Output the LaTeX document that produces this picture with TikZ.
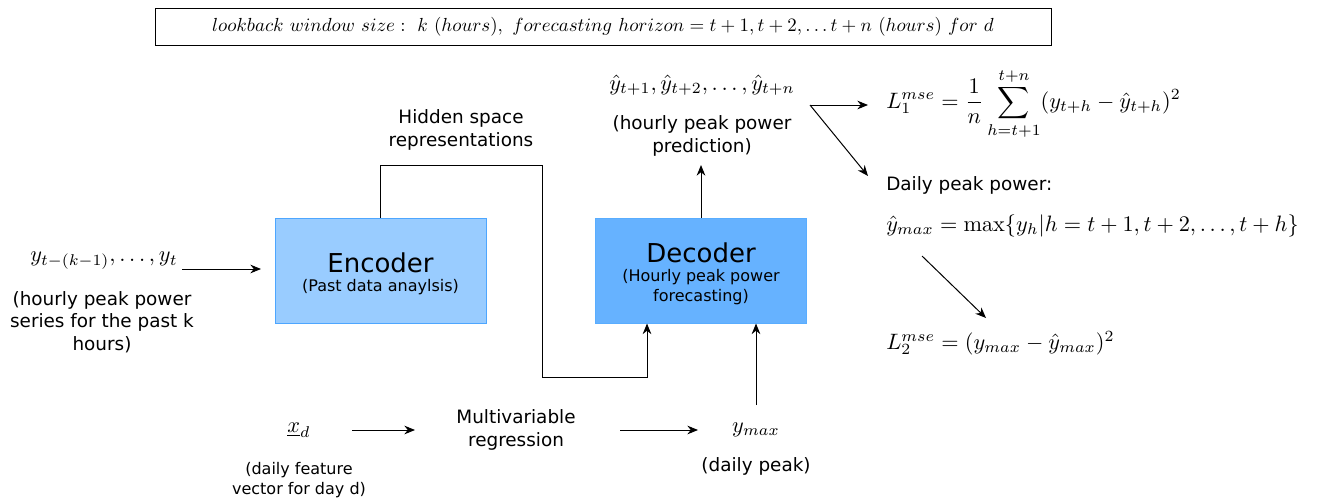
\documentclass[tikz,border=0pt]{standalone}
\usepackage{amsmath}
\usepackage{graphicx}
\usepackage{fontspec}
\setsansfont{DejaVu Sans}
\usetikzlibrary{arrows.meta,calc}
\definecolor{encfill}{HTML}{99CCFF}
\definecolor{encline}{HTML}{4DA6FF}
\definecolor{decfill}{HTML}{66B2FF}
\definecolor{decline}{HTML}{59ADFF}
\newcommand{\mymth}[1]{\scalebox{1.67}{$#1$}}
\begin{document}
\begin{tikzpicture}[x=0.75pt,y=-0.75pt,
  lbl/.style={font=\sffamily\fontsize{13.8}{17}\selectfont, align=center, inner sep=0pt},
  mth/.style={inner sep=0pt},
  arr/.style={-{Stealth[length=8pt,width=6.5pt]}, line width=0.75pt},
  blk/.style={draw, line width=0.75pt, minimum width=158.25pt, minimum height=78.75pt, inner sep=0pt}]
\useasboundingbox (0,0) rectangle (1321,500);

% top box
\node[draw, line width=0.75pt, minimum width=672pt, minimum height=27.75pt, inner sep=0pt] (top) at (603,26.5)
  {\scalebox{1.42}{$lookback\ window\ size:\ k\ (hours),\ forecasting\ horizon=t+1,t+2,\dots t+n\ (hours)\ for\ d$}};

% blocks
\node[blk, fill=encfill, draw=encline] (enc) at (380.5,270.5) {};
\node[blk, fill=decfill, draw=decline] (dec) at (701,270.5) {};
\node[lbl, font=\sffamily\fontsize{19.5}{22}\selectfont] (enct) at (380.5,263) {Encoder};
\node[lbl, font=\sffamily\fontsize{12}{14}\selectfont] (encs) at (380.5,287) {(Past data anaylsis)};
\node[lbl, font=\sffamily\fontsize{19.5}{22}\selectfont] (dect) at (701,253) {Decoder};
\node[lbl, font=\sffamily\fontsize{12}{14.5}\selectfont] (decs) at (701,287) {(Hourly peak power\\forecasting)};

% input
\node[mth] (yin) at (104,261) {\mymth{y_{t-(k-1)},\dots,y_t}};
\node[lbl] (yinl) at (102,322) {(hourly peak power\\series for the past k\\hours)};
\coordinate (a1) at (182,269);
\coordinate (a2) at (261,269);
\draw[arr] (a1) -- (a2);

% hidden space
\node[lbl] (hid) at (461,130) {Hidden space\\representations};
\coordinate (h1) at (542,165);
\coordinate (h2) at (542,377);
\draw[arr] (enc.north) |- (h1) -- (h2) -| ($(dec.south west)+(52,0)$);

% prediction
\node[mth] (yhat) at (702,85) {\mymth{\hat y_{t+1},\hat y_{t+2},\dots,\hat y_{t+n}}};
\node[lbl] (pred) at (702,136) {(hourly peak power\\prediction)};
\coordinate (p1) at (701,165);
\draw[arr] (dec.north) -- (p1);

% losses
\node[mth, anchor=west] (L1) at (886,104) {\mymth{\displaystyle L_1^{mse}=\frac{1}{n}\sum_{h=t+1}^{t+n}(y_{t+h}-\hat y_{t+h})^2}};
\node[lbl, anchor=west] (dpp) at (886,185) {Daily peak power:};
\node[mth, anchor=west] (ymx) at (886,226) {\mymth{\hat y_{max}=\max\{y_h|h=t+1,t+2,\dots,t+h\}}};
\node[mth, anchor=west] (L2) at (886,343) {\mymth{L_2^{mse}=(y_{max}-\hat y_{max})^2}};
\coordinate (fork) at (810,105);
\coordinate (f1) at (868,105);
\coordinate (f2) at (868,176);
\draw[arr] (fork) -- (f1);
\draw[arr] (fork) -- (f2);
\coordinate (m1) at (922,256);
\coordinate (m2) at (986,318);
\draw[arr] (m1) -- (m2);

% bottom row
\node[mth] (xd) at (299,430) {\mymth{\underline{x}_d}};
\node[lbl, font=\sffamily\fontsize{12}{15}\selectfont] (xdl) at (299,480) {(daily feature\\vector for day d)};
\node[lbl] (reg) at (516,430) {Multivariable\\regression};
\node[mth] (ym) at (756,430) {\mymth{y_{max}}};
\node[lbl] (yml) at (756,466) {(daily peak)};
\coordinate (b1) at (352,430);
\coordinate (b2) at (415,430);
\coordinate (b3) at (620,430);
\coordinate (b4) at (698,430);
\coordinate (b5) at (756,405);
\draw[arr] (b1) -- (b2);
\draw[arr] (b3) -- (b4);
\draw[arr] (b5) -- (b5 |- dec.south);
\end{tikzpicture}
\end{document}
